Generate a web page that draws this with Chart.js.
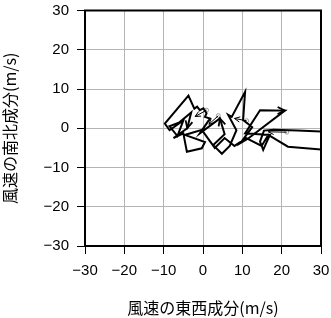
<!DOCTYPE html>
<html>
<head>
<meta charset="utf-8">
<script src="https://cdn.jsdelivr.net/npm/chart.js@4"></script>
<style>
  html, body { margin: 0; padding: 0; background: #fff; }
</style>
</head>
<body>
<canvas id="windChart" width="331" height="318"></canvas>
<script>
// wind trajectory (east / north components, m/s)
const pathU = [31, 24, 18, 15.5, 14.5, 15.3, 17, 10.7, 14.5, 20.8, 11.5, 9.5, 12.5, 10.2, 10.7, 7.3, 6.4, 8.5, 6.8, 4.8,
  2.6, 5.5, 4.3, -0.8, 1.8, 0.5, 0.9, 0.1, -0.8, -1.5, -2.2, -3.7, -9.7, -8.5, -5, -6.5, -8.5, -6, -3, -4,
  -7.5, -5, -4.1, -0.3, 0.5, -4.6, -0.3, 3, 5.5, 8, 11, 14.9, 16.6, 21.6, 31];
const pathV = [-0.9, -0.6, -0.4, -0.6, -3.4, -5.5, -1.7, -1.3, 4.6, 4.5, -2.6, -3.8, 0.3, 2.1, 9.3, 2.9, 3.4, -0.5, -4.5, -6.5,
  -4.3, -1.5, 2.5, -1.3, 2.5, 2.9, 3.8, 5.1, 4.6, 5.5, 5, 8.3, 1.2, -0.5, 2, -2, 0.5, 1.5, 4, 0,
  -2.5, -1.3, -6, -5.1, -3.5, -1.7, -0.4, -5, -2.5, -4.5, -2.5, -4.5, -1.7, -4.7, -5.5];
const pathArrows = [9, 22, 39];

// small vectors: start (circle) -> end (arrow head)
const vecStartU = [21.3, 11.1, 3.9, 0.9];
const vecStartV = [-1.0, 1.9, 3.2, 4.6];
const vecEndU = [16.6, 8, 1.5, -2];
const vecEndV = [-0.9, 2.5, 1, 3];

const axisTicks = [-30, -20, -10, 0, 10, 20, 30];

function tickLabel(v) {
  return v < 0 ? '\u2212' + Math.abs(v) : String(v);
}

const pathData = pathU.map((u, i) => ({ x: u, y: pathV[i] }));
const vectorSets = vecStartU.map((u, i) => ({
  data: [{ x: u, y: vecStartV[i] }, { x: vecEndU[i], y: vecEndV[i] }],
  showLine: true,
  borderColor: '#000',
  borderWidth: 1,
  pointRadius: 0
}));

function drawHead(c, x0, y0, x1, y1, len) {
  const a = Math.atan2(y1 - y0, x1 - x0);
  c.beginPath();
  c.moveTo(x1 - len * Math.cos(a - 0.45), y1 - len * Math.sin(a - 0.45));
  c.lineTo(x1, y1);
  c.lineTo(x1 - len * Math.cos(a + 0.45), y1 - len * Math.sin(a + 0.45));
  c.stroke();
}

const framePlugin = {
  id: 'frame',
  afterDatasetsDraw(chart) {
    const c = chart.ctx;
    const xs = chart.scales.x, ys = chart.scales.y;
    const area = chart.chartArea;
    c.save();
    c.strokeStyle = '#000';
    c.lineWidth = 1.8;
    pathArrows.forEach(i => {
      drawHead(c, xs.getPixelForValue(pathU[i - 1]), ys.getPixelForValue(pathV[i - 1]),
        xs.getPixelForValue(pathU[i]), ys.getPixelForValue(pathV[i]), 8);
    });
    c.lineWidth = 1;
    vecStartU.forEach((u, i) => {
      drawHead(c, xs.getPixelForValue(u), ys.getPixelForValue(vecStartV[i]),
        xs.getPixelForValue(vecEndU[i]), ys.getPixelForValue(vecEndV[i]), 6);
    });
    c.lineWidth = 2;
    c.strokeRect(area.left, area.top, area.right - area.left, area.bottom - area.top);
    c.restore();
  }
};

const ctx = document.getElementById('windChart').getContext('2d');
new Chart(ctx, {
  type: 'scatter',
  data: {
    datasets: [
      {
        data: pathData,
        showLine: true,
        borderColor: '#000',
        borderWidth: 2,
        pointRadius: 0,
        tension: 0
      },
      ...vectorSets,
      {
        data: vecStartU.map((u, i) => ({ x: u, y: vecStartV[i] })),
        pointRadius: 2,
        pointBorderColor: '#999',
        pointBackgroundColor: '#fff',
        pointBorderWidth: 1
      }
    ]
  },
  options: {
    responsive: false,
    animation: false,
    layout: { padding: { top: 10.5, right: 10, left: 0, bottom: 0 } },
    plugins: { legend: { display: false }, tooltip: { enabled: false } },
    scales: {
      x: {
        type: 'linear',
        min: -30,
        max: 30,
        afterBuildTicks: s => { s.ticks = axisTicks.map(v => ({ value: v })); },
        afterFit: s => { s.height = 72; s.paddingLeft = 0; s.paddingRight = 0; },
        ticks: { callback: tickLabel, color: '#000', padding: 8, maxRotation: 0,
          font: { family: 'Liberation Sans', size: 15 } },
        grid: { color: '#b4b4b4', tickColor: '#000', tickLength: 8, lineWidth: 1 },
        border: { display: true, color: '#000', width: 2 },
        title: { display: true, text: '風速の東西成分(m/s)', color: '#000', padding: 0,
          font: { family: 'Noto Sans CJK JP', size: 16 } }
      },
      y: {
        type: 'linear',
        min: -30,
        max: 30,
        afterBuildTicks: s => { s.ticks = axisTicks.map(v => ({ value: v })); },
        afterFit: s => { s.width = 85; s.paddingTop = 0; s.paddingBottom = 0; },
        ticks: { callback: tickLabel, color: '#000', padding: 8,
          font: { family: 'Liberation Sans', size: 15 } },
        grid: { color: '#b4b4b4', tickColor: '#000', tickLength: 8, lineWidth: 1 },
        border: { display: true, color: '#000', width: 2 },
        title: { display: true, text: '風速の南北成分(m/s)', color: '#000', padding: 0,
          font: { family: 'Noto Sans CJK JP', size: 16 } }
      }
    }
  },
  plugins: [framePlugin]
});
</script>
</body>
</html>
